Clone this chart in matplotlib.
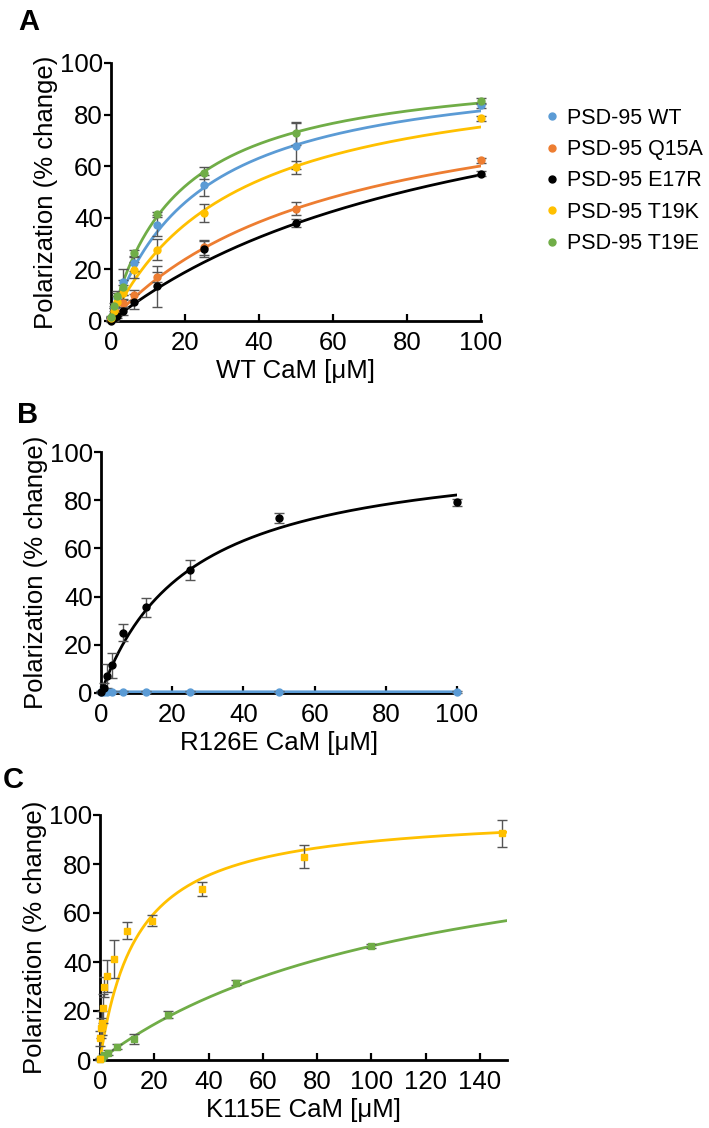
import numpy as np
import matplotlib
matplotlib.use("Agg")
import matplotlib.pyplot as plt
from matplotlib.lines import Line2D

plt.rcParams.update({
    "font.family": ["Liberation Sans", "DejaVu Sans"],
    "font.size": 18,
    "axes.linewidth": 2.0,
    "xtick.major.width": 1.6,
    "ytick.major.width": 1.6,
})

BLUE = "#5B9BD5"
ORANGE = "#ED7D31"
BLACK = "#000000"
YELLOW = "#FFC000"
GREEN = "#70AD47"

# ---- Panel A: WT CaM titration
a_x = [0, 0.78, 1.56, 3.125, 6.25, 12.5, 25, 50, 100]
a_labels = ["PSD-95 WT", "PSD-95 Q15A", "PSD-95 E17R", "PSD-95 T19K", "PSD-95 T19E"]
a_colors = [BLUE, ORANGE, BLACK, YELLOW, GREEN]
a_wt = [1, 5, 9, 15.2, 22.3, 37.1, 52.6, 67.8, 83.6]
a_q15a = [0.5, 1.5, 3, 7, 10, 17.1, 28.5, 43.5, 62.3]
a_e17r = [0, 1, 2, 4, 7.5, 13.5, 28, 38, 57.1]
a_t19k = [1, 4, 7.5, 11, 19.7, 27.7, 42, 59.6, 78.6]
a_t19e = [1.5, 6, 9.5, 13, 26.2, 41.4, 57.4, 72.8, 85.3]
a_wt_err = [0.5, 1, 2, 5, 3, 4, 4, 9, 1]
a_q15a_err = [0.5, 1, 1, 1.5, 2, 2, 3, 2.5, 1]
a_e17r_err = [0.5, 1, 1, 1.5, 3, 8, 3, 1.5, 1]
a_t19k_err = [0.5, 1, 2, 3, 3, 4, 3.5, 2.5, 1]
a_t19e_err = [0.5, 1, 2, 3, 1.5, 1, 2.3, 4.5, 1]
# one-site binding fit parameters (Kd in uM, Bmax in %)
a_kd = [24, 60.9, 100, 33.9, 18.3]
a_bmax = [101, 96.7, 113.4, 100.7, 100]

# ---- Panel B: R126E CaM
b_x = [0, 0.78, 1.56, 3.125, 6.25, 12.5, 25, 50, 100]
b_e17r = [0.5, 2, 7, 11.5, 25, 35.6, 51, 72.6, 79.1]
b_e17r_err = [0.5, 2, 5, 5.3, 3.5, 4, 4, 2, 1.5]
b_wt = [0.5, 0.5, 0.6, 0.5, 0.5, 0.5, 0.5, 0.5, 0.5]
b_wt_err = [0.3, 0.3, 0.3, 0.3, 0.3, 0.3, 0.3, 0.3, 0.3]
b_kd = [25.1, 0.1]
b_bmax = [102.8, 0.5]

# ---- Panel C: K115E CaM
c_x_yellow = [0, 0.15, 0.29, 0.59, 1.17, 1.6, 2.7, 5.2, 9.8, 19, 37.5, 75, 148]
c_yellow = [0.3, 8.9, 13, 15.2, 21.1, 29.9, 34.3, 41.3, 52.7, 56.9, 69.8, 83, 92.5]
c_yellow_err = [0.5, 3, 4, 5, 6, 4, 6.6, 7.7, 3.5, 2.4, 2.7, 4.6, 5.5]
c_x_green = [0, 0.78, 1.56, 3.125, 6.25, 12.5, 25, 50, 100]
c_green = [0.5, 1, 2, 3, 5.5, 8.5, 18.5, 31.5, 46.5]
c_green_err = [0.3, 0.5, 0.5, 1, 1, 2, 1.5, 1, 0.8]
c_kd = [13.9, 121]
c_bmax = [101.6, 102.8]


def binding(x, kd, bmax):
    return bmax * x / (kd + x)


def style_axes(ax, xmax, xticks):
    ax.spines["top"].set_visible(False)
    ax.spines["right"].set_visible(False)
    ax.set_xlim(0, xmax)
    ax.set_ylim(0, 100)
    ax.set_xticks(xticks)
    ax.set_yticks([0, 20, 40, 60, 80, 100])
    ax.tick_params(axis="y", direction="out", length=5, pad=1, labelsize=18.5)
    ax.tick_params(axis="x", direction="in", length=5, pad=7, labelsize=18.5)
    ax.set_ylabel("Polarization (% change)", fontsize=18.5, labelpad=1)


def plot_series(ax, x, y, err, color, kd, bmax, xmax, marker="o", ms=5):
    xs = np.linspace(0, xmax, 400)
    ax.plot(xs, binding(xs, kd, bmax), color=color, lw=2.0, zorder=3)
    ax.errorbar(x, y, yerr=err, fmt=marker, color=color, ms=ms, ecolor="#555555",
                elinewidth=1.0, capsize=3.5, capthick=1.0, zorder=4, clip_on=False)


fig = plt.figure(figsize=(7.09, 11.28), dpi=100)

# Panel A
ax_a = fig.add_axes([111 / 709, 1 - 321 / 1128, 370 / 709, 258 / 1128])
a_series = [a_wt, a_q15a, a_e17r, a_t19k, a_t19e]
a_errs = [a_wt_err, a_q15a_err, a_e17r_err, a_t19k_err, a_t19e_err]
for y, e, c, kd, bm in zip(a_series, a_errs, a_colors, a_kd, a_bmax):
    plot_series(ax_a, a_x, y, e, c, kd, bm, 100)
style_axes(ax_a, 100, [0, 20, 40, 60, 80, 100])
ax_a.set_xlabel("WT CaM [μM]", fontsize=18.5, labelpad=3)

handles = [Line2D([], [], marker="o", ls="", color=c, ms=5) for c in a_colors]
fig.legend(handles, a_labels, loc="upper left", bbox_to_anchor=(536 / 709, 1 - 97 / 1128),
           frameon=False, fontsize=15.5, handlelength=0.5, handletextpad=0.45,
           labelspacing=0.48, borderpad=0)

# Panel B
ax_b = fig.add_axes([101 / 709, 1 - 693 / 1128, 356 / 709, 241 / 1128])
plot_series(ax_b, b_x, b_wt, b_wt_err, BLUE, b_kd[1], b_bmax[1], 100)
plot_series(ax_b, b_x, b_e17r, b_e17r_err, BLACK, b_kd[0], b_bmax[0], 100)
style_axes(ax_b, 100, [0, 20, 40, 60, 80, 100])
ax_b.set_xlabel("R126E CaM [μM]", fontsize=18.5, labelpad=3)

# Panel C
ax_c = fig.add_axes([100 / 709, 1 - 1060 / 1128, 407 / 709, 245 / 1128])
plot_series(ax_c, c_x_green, c_green, c_green_err, GREEN, c_kd[1], c_bmax[1], 150, marker="s", ms=4.5)
plot_series(ax_c, c_x_yellow, c_yellow, c_yellow_err, YELLOW, c_kd[0], c_bmax[0], 150, marker="s", ms=5)
style_axes(ax_c, 150, [0, 20, 40, 60, 80, 100, 120, 140])
ax_c.set_xlabel("K115E CaM [μM]", fontsize=18.5, labelpad=3)

# panel letters
for lbl, xp, yp in [("A", 18, 8), ("B", 17, 401), ("C", 3, 766)]:
    fig.text(xp / 709, 1 - yp / 1128, lbl, fontsize=21, fontweight="bold", va="top", ha="left")

fig.savefig("out.png", dpi=100)
